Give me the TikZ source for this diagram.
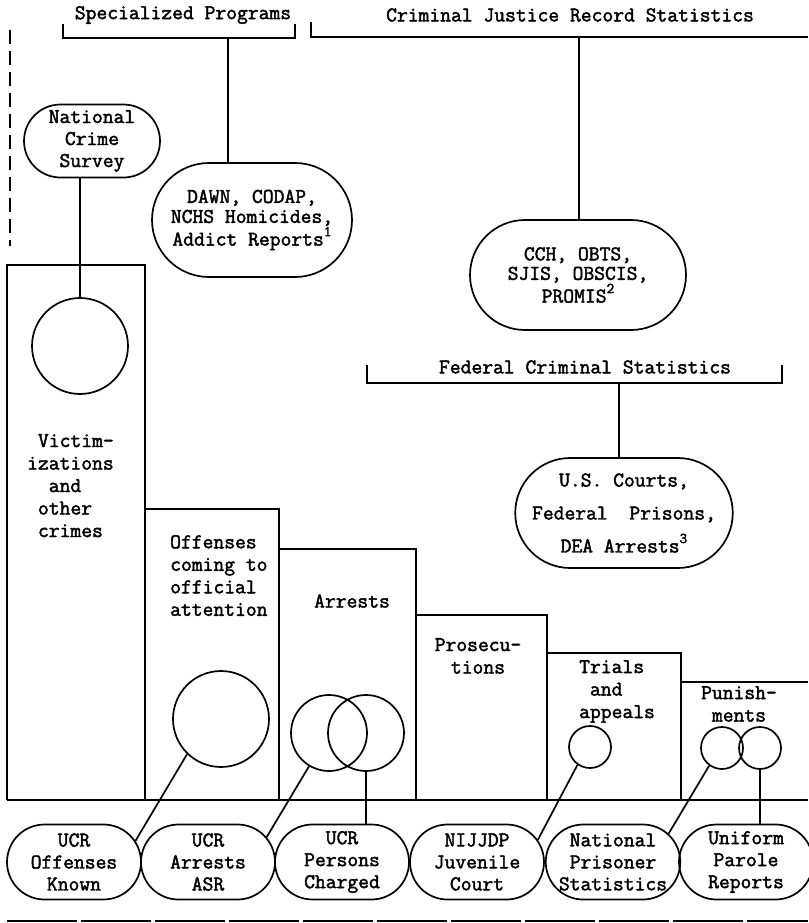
\documentclass[tikz,border=0pt]{standalone}
\usepackage{fontspec}
\newfontfamily\tw[FakeBold=2]{Latin Modern Mono}
\usetikzlibrary{shapes.misc}
\tikzset{
  ln/.style={line width=1.7pt, black},
  oval/.style={rounded rectangle, draw, line width=1.7pt, inner sep=0pt, align=center, font=\tw\fontsize{21}{22}\selectfont},
  botnode/.style={oval, minimum width=134pt, minimum height=75pt},
  circ/.style={circle, draw, line width=1.7pt, inner sep=0pt},
  lbl/.style={inner sep=0pt, align=left, font=\tw\fontsize{21}{22.5}\selectfont},
  hdr/.style={inner sep=0pt, font=\tw\fontsize{21}{22}\selectfont},
}
\newcommand{\supnum}[1]{\raisebox{0.45em}{\fontsize{15}{15}\selectfont #1}}
\begin{document}
\begin{tikzpicture}[x=1pt,y=-1pt]
\useasboundingbox (0,0) rectangle (808,923);

% headers
\node[hdr] (hsp) at (183,15) {Specialized Programs};
\node[hdr] (hcj) at (570,15) {Criminal Justice Record Statistics};
\node[hdr] (hfed) at (585,367) {Federal Criminal Statistics};

% brackets
\coordinate (spL) at (63,38);
\coordinate (spR) at (295,38);
\coordinate (spmid) at (228,38);
\draw[ln] ([yshift=14pt]spL) -- (spL) -- (spR) -- ([yshift=14pt]spR);
\coordinate (cjL) at (311,37);
\coordinate (cjR) at (808,37);
\coordinate (cjmid) at (579,37);
\draw[ln] ([yshift=15pt]cjL) -- (cjL) -- (cjR);
\coordinate (fedL) at (367,383);
\coordinate (fedR) at (782,383);
\coordinate (fedmid) at (619,383);
\draw[ln] ([yshift=18pt]fedL) -- (fedL) -- (fedR) -- ([yshift=18pt]fedR);

% left dashed line
\coordinate (dtop) at (10,30);
\coordinate (dbot) at (10,246);
\draw[ln, line width=2.4pt, dash pattern=on 14pt off 7pt] (dtop) -- (dbot);

% upper ovals
\node[oval, minimum width=136pt, minimum height=73pt] (ncs) at (92,141) {National\\Crime\\Survey};
\node[oval, minimum width=200pt, minimum height=114pt, font=\tw\fontsize{21}{20}\selectfont] (dawn) at (252,220) {DAWN, CODAP,\\NCHS Homicides,\\Addict Reports\supnum{1}};
\node[oval, minimum width=216pt, minimum height=110pt, font=\tw\fontsize{21}{19.5}\selectfont] (cch) at (578,275) {CCH, OBTS,\\SJIS, OBSCIS,\\PROMIS\supnum{2}};
\node[oval, minimum width=195pt, minimum height=110pt, font=\tw\fontsize{21}{33}\selectfont] (usc) at (624,513) {U.S. Courts,\\Federal~ Prisons,\\DEA Arrests\supnum{3}};

\draw[ln] (spmid) -- (spmid |- dawn.north);
\draw[ln] (cjmid) -- (cjmid |- cch.north);
\draw[ln] (fedmid) -- (fedmid |- usc.north);

% step boxes
\coordinate (base0) at (7,800);
\coordinate (base1) at (808,800);
\draw[ln] (7,800) -- (7,265) -- (145,265) -- (145,800);
\draw[ln] (145,509) -- (279,509) -- (279,800);
\draw[ln] (279,549) -- (416,549) -- (416,800);
\draw[ln] (416,615) -- (547,615) -- (547,800);
\draw[ln] (547,653) -- (681,653) -- (681,800);
\draw[ln] (681,682) -- (808,682);
\draw[ln] (base0) -- (base1);

% box labels
\node[lbl, anchor=north west] (tvic) at (27,434) {~Victim-\\izations\\~~and\\~other\\~crimes};
\node[lbl, anchor=north west] (toff) at (170,535) {Offenses\\coming to\\official\\attention};
\node[lbl] (tarr) at (352,601) {Arrests};
\node[lbl, align=center, anchor=north] (tpro) at (478,638) {Prosecu-\\tions};
\node[lbl, anchor=north west] (ttri) at (579,660) {Trials\\~and\\appeals};
\node[lbl, align=center, anchor=north] (tpun) at (739,686) {Punish-\\ments};

% circles
\node[circ, minimum size=96pt] (cvic) at (80,346) {};
\node[circ, minimum size=96pt] (coff) at (221,719) {};
\node[circ, minimum size=76pt] (carA) at (329,733) {};
\node[circ, minimum size=76pt] (carB) at (366,733) {};
\node[circ, minimum size=42pt] (ctri) at (590,747) {};
\node[circ, minimum size=42pt] (cpunA) at (722,748) {};
\node[circ, minimum size=42pt] (cpunB) at (760,748) {};

\draw[ln] (cvic.north) -- (cvic.north |- ncs.south);

% bottom nodes
\node[botnode] (u1) at (74,862) {UCR\\Offenses\\Known};
\node[botnode] (u2) at (208,862) {UCR\\Arrests\\ASR};
\node[botnode] (u3) at (342,862) {UCR\\Persons\\Charged};
\node[botnode] (u4) at (477,862) {NIJJDP\\Juvenile\\Court};
\node[botnode] (u5) at (613,862) {National\\Prisoner\\Statistics};
\node[botnode] (u6) at (746,862) {Uniform\\Parole\\Reports};

% connectors
\draw[ln] (coff.226) -- (u1.19);
\draw[ln] (carA.239) -- (u2.23);
\draw[ln] (carB.south) -- (carB.south |- u3.north);
\draw[ln] (ctri.235) -- (u4.20);
\draw[ln] (cpunA.234) -- (u5.27);
\draw[ln] (cpunB.south) -- (cpunB.south |- u6.north);

% bottom line
\coordinate (bl0) at (7,921);
\coordinate (bl1) at (808,921);
\draw[ln, line width=2pt, dash pattern=on 70pt off 4pt] (bl0) -- (bl1);
\end{tikzpicture}
\end{document}
